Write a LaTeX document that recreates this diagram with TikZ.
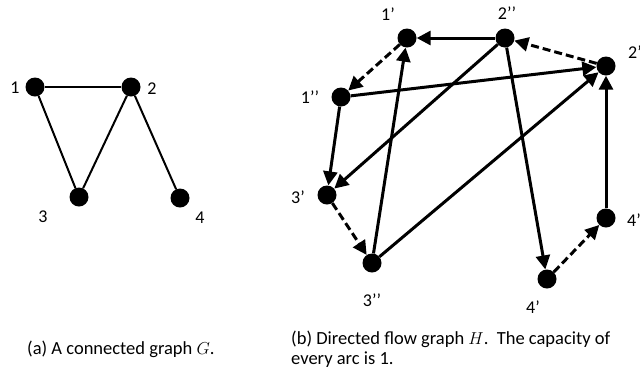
\documentclass[tikz,border=0pt]{standalone}
\usepackage{fontspec}
\setmainfont{Carlito}
\usetikzlibrary{arrows.meta}
\begin{document}
\begin{tikzpicture}[x=1pt,y=-1pt,
  vtx/.style={circle,fill=black,inner sep=0pt,minimum size=19pt},
  lab/.style={font=\fontsize{18}{20}\selectfont,inner sep=0pt},
  und/.style={line width=2pt},
  arc/.style={line width=3pt,-{Triangle[length=14pt,width=14pt]}},
  darc/.style={arc,dash pattern=on 8pt off 4pt},
  captxt/.style={font=\fontsize{18.5}{20}\selectfont,align=left,inner sep=0pt,anchor=base west}]
\useasboundingbox (0,0) rectangle (640,376);
% left graph
\node[vtx] (a1) at (35,87) {};
\node[vtx] (a2) at (131,87) {};
\node[vtx] (a3) at (79,197) {};
\node[vtx] (a4) at (180,198) {};
\node[lab] (l1) at (15,88) {1};
\node[lab] (l2) at (152,89) {2};
\node[lab] (l3) at (43,217) {3};
\node[lab] (l4) at (200,218) {4};
\draw[und] (a1) -- (a2);
\draw[und] (a1) -- (a3);
\draw[und] (a2) -- (a3);
\draw[und] (a2) -- (a4);
% right graph
\node[vtx] (p1) at (407,38) {};
\node[vtx] (q2) at (505,38) {};
\node[vtx] (p2) at (606,66) {};
\node[vtx] (q1) at (341,97) {};
\node[vtx] (p3) at (327,195) {};
\node[vtx] (q3) at (372,263) {};
\node[vtx] (p4b) at (547,279) {};
\node[vtx] (p4r) at (606,218) {};
\node[lab] (lp1) at (388,14) {1’};
\node[lab] (lq2) at (507,13) {2’’};
\node[lab,anchor=west] (lp2) at (628,52) {2’};
\node[lab] (lq1) at (310,97) {1’’};
\node[lab] (lp3) at (298,197) {3’};
\node[lab] (lq3) at (372,300) {3’’};
\node[lab] (lp4b) at (533,307) {4’};
\node[lab,anchor=west] (lp4r) at (627,220) {4’};
\draw[arc] (q2) -- (p1);
\draw[darc] (p2) -- (q2);
\draw[darc] (p1) -- (q1);
\draw[arc] (q1) -- (p2);
\draw[arc] (q2) -- (p3);
\draw[arc] (q2) -- (p4b);
\draw[arc] (q1) -- (p3);
\draw[arc] (q3) -- (p1);
\draw[arc] (q3) -- (p2);
\draw[arc] (p4r) -- (p2);
\draw[darc] (p3) -- (q3);
\draw[darc] (p4b) -- (p4r);
% captions
\node[captxt] (ca) at (27,354) {(a) A connected graph $G$.};
\node[captxt] (cb) at (291,364) {(b) Directed flow graph $H$.\ \ The capacity of\\every arc is 1.};
\end{tikzpicture}
\end{document}
